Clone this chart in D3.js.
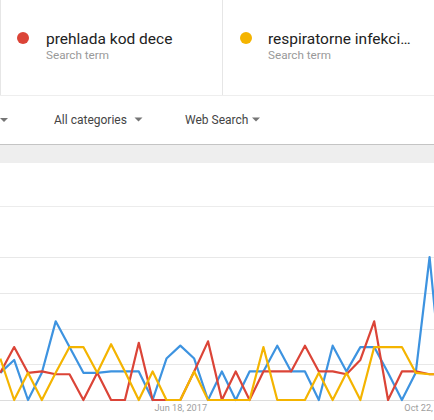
<!DOCTYPE html>
<html>
<head>
<meta charset="utf-8">
<script src="https://cdn.jsdelivr.net/npm/d3@7"></script>
<style>
  body { margin: 0; background: #fff; font-family: Roboto, "Noto Sans", sans-serif; }
  svg { display: block; }
</style>
</head>
<body>
<div id="chart"></div>
<script>
// weekly points, first one is Mar 19, 2017
const startDate = new Date(2017, 2, 19);
const blueValues = [19, 28, 0, 19, 55, 37, 19, 19, 20, 20, 20, 0, 29, 38, 29, 0, 20, 0, 20, 20, 38, 20, 20, 0, 38, 20, 37, 37, 19, 0, 19, 100, 0];
const redValues = [19, 37, 19, 20, 18, 18, 0, 19, 0, 0, 40, 0, 0, 0, 20, 41, 0, 20, 0, 20, 20, 20, 38, 20, 20, 18, 28, 55, 0, 20, 20, 18, 18];
const yellowValues = [29, 0, 19, 0, 19, 37, 37, 19, 39, 20, 0, 20, 0, 0, 20, 0, 0, 0, 0, 37, 0, 0, 0, 19, 0, 19, 0, 37, 37, 37, 19, 18, 18];
const gridTicks = [0, 25, 50, 75, 100];
const tickDates = [new Date(2017, 5, 18), new Date(2017, 9, 22)];
const terms = ["prehlada kod dece", "respiratorne infekci…"];
const termColors = ["#db4437", "#f4b400"];
const filters = ["All categories", "Web Search"];

let width = 434,
    height = 420,
    margin = { top: 257, bottom: 400 };

const svg = d3
    .select("#chart")
    .append("svg")
    .attr("width", width)
    .attr("height", height)
    .attr("viewBox", [0, 0, width, height]);

// ---- header cards ----
svg.append("line")
    .attr("x1", 0.5).attr("x2", 0.5).attr("y1", 0).attr("y2", 95)
    .attr("stroke", "#e6e6e6");
svg.append("line")
    .attr("x1", 222.5).attr("x2", 222.5).attr("y1", 0).attr("y2", 95)
    .attr("stroke", "#e6e6e6");
svg.append("line")
    .attr("x1", 0).attr("x2", width).attr("y1", 95.5).attr("y2", 95.5)
    .attr("stroke", "#eeeeee");

let cardX = [0, 222];
terms.forEach((t, i) => {
    let g = svg.append("g").attr("transform", `translate(${cardX[i]},0)`);
    g.append("circle")
        .attr("cx", 23 + i * 1)
        .attr("cy", 38)
        .attr("r", 6)
        .attr("fill", termColors[i]);
    g.append("text")
        .attr("x", 46)
        .attr("y", 44)
        .attr("font-size", "15.5px")
        .attr("fill", "#222")
        .text(t);
    g.append("text")
        .attr("x", 46)
        .attr("y", 59)
        .attr("font-size", "11.7px")
        .attr("fill", "#999")
        .text("Search term");
});

// ---- filter row ----
let arrow = (cx, cy) => `M${cx - 4},${cy - 2}L${cx + 4},${cy - 2}L${cx},${cy + 2}Z`;
svg.append("path").attr("d", arrow(4, 120)).attr("fill", "#757575");
let filterX = [54, 185],
    arrowX = [138.5, 256];
filters.forEach((f, i) => {
    svg.append("text")
        .attr("x", filterX[i])
        .attr("y", 124)
        .attr("font-size", "12px")
        .attr("fill", "#444")
        .text(f);
    svg.append("path").attr("d", arrow(arrowX[i], 119.5)).attr("fill", "#757575");
});

// gray band above chart
svg.append("rect")
    .attr("x", 0).attr("y", 145).attr("width", width).attr("height", 18)
    .attr("fill", "#eeeeee");
svg.append("line")
    .attr("x1", 0).attr("x2", width).attr("y1", 144.5).attr("y2", 144.5)
    .attr("stroke", "#c4c4c4");

// ---- chart ----
let dates = blueValues.map((d, i) => d3.timeWeek.offset(startDate, i));

let x = d3
    .scaleTime()
    .domain([startDate, tickDates[1]])
    .range([0.3, 429.6]);

let y = d3
    .scaleLinear()
    .domain([0, 100])
    .range([margin.bottom, margin.top]);

// top border line of plot area
svg.append("line")
    .attr("x1", 0).attr("x2", width).attr("y1", 206.5).attr("y2", 206.5)
    .attr("stroke", "#ececec");

svg.append("g")
    .attr("class", "grid")
    .selectAll("line")
    .data(gridTicks)
    .join("line")
    .attr("x1", 0)
    .attr("x2", width)
    .attr("y1", (d) => Math.round(y(d)) + 0.5)
    .attr("y2", (d) => Math.round(y(d)) + 0.5)
    .attr("stroke", (d) => (d === 0 ? "#dcdcdc" : "#e8e8e8"));

svg.append("g")
    .attr("transform", `translate(0,${margin.bottom})`)
    .call(
        d3.axisBottom(x)
            .tickValues(tickDates)
            .tickSize(0)
            .tickPadding(4.5)
            .tickFormat(d3.timeFormat("%b %-d, %Y"))
    )
    .call((g) => g.select(".domain").remove())
    .selectAll("text")
    .attr("font-family", "Roboto, sans-serif")
    .attr("font-size", "9.2px")
    .attr("fill", "#9e9e9e");

let line = d3
    .line()
    .x((d) => x(d.date))
    .y((d) => y(d.value));

let series = [
    { color: "#3d93e0", values: blueValues },
    { color: "#db4437", values: redValues },
    { color: "#f4b400", values: yellowValues },
];

for (let s of series) {
    let pts = s.values.map((v, i) => ({ date: dates[i], value: v }));
    svg.append("path")
        .datum(pts)
        .attr("fill", "none")
        .attr("stroke", s.color)
        .attr("stroke-width", 2.2)
        .attr("stroke-linejoin", "round")
        .attr("d", line);
}
</script>
</body>
</html>
